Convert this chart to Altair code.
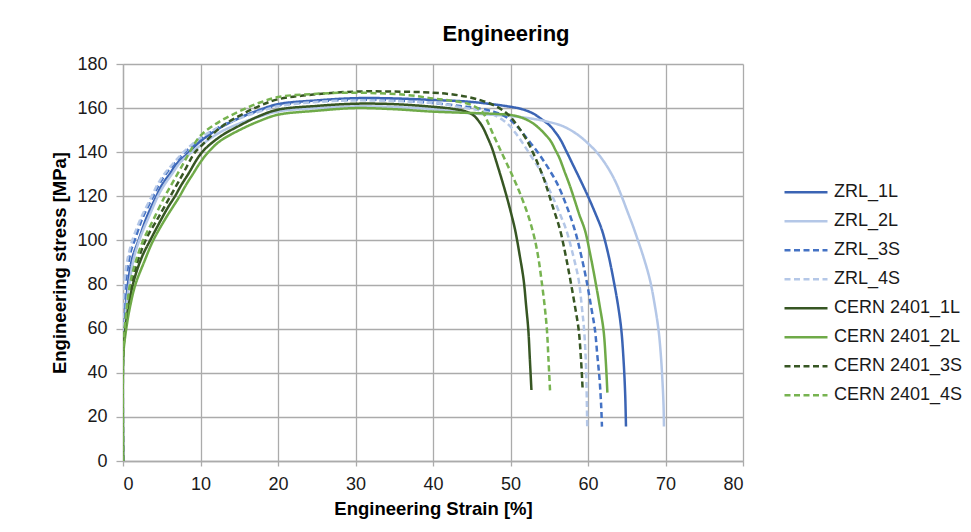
import altair as alt
import pandas as pd

series_names = ["ZRL_1L", "ZRL_2L", "ZRL_3S", "ZRL_4S",
                "CERN 2401_1L", "CERN 2401_2L", "CERN 2401_3S", "CERN 2401_4S"]
series_colors = ["#3B64B4", "#B4C7E7", "#4472C4", "#B4C7E7",
                 "#375623", "#6FAA48", "#375623", "#77B350"]
series_dash = [[1, 0], [1, 0], [6, 3.5], [6, 3.5],
               [1, 0], [1, 0], [6, 3.5], [6, 3.5]]

zrl_1l_strain = [0, 0, 0.1, 0.3, 0.7, 1.2, 2, 3, 4.3, 5, 6, 7, 8.2, 10, 12.5, 15, 17.5, 20, 25, 30, 35, 40, 45,
                 50, 51.5, 52.9, 54, 55.1, 55.8, 56.4, 57.2, 58.1, 59, 60, 61.1, 61.8, 62.6, 63.3, 63.9,
                 64.3, 64.6, 64.8, 64.9]
zrl_1l_stress = [0, 50, 58, 68, 82, 92, 100, 110, 120, 125, 130, 135, 139, 145, 151, 155.5, 159, 161.8, 163.5, 164.5, 164.4, 163.7, 162.8,
                 160.6, 159.5, 157.6, 155, 152, 149, 146, 140.5, 134, 127.5, 120, 111, 104.7, 94, 82, 70,
                 59.4, 45, 30, 15.6]

zrl_2l_strain = [0, 0, 0.1, 0.3, 0.8, 1.4, 2.3, 3.5, 4.5, 5.3, 6.3, 7.3, 8.5, 10, 12.5, 15, 17.5, 20, 25, 30, 35, 40, 44.3,
                 50, 52, 53.8, 55.2, 56.4, 57.3, 58.1, 59.1, 60, 61, 62, 62.9, 63.7, 64.4, 65.1, 65.7, 66.3,
                 67.2, 68, 68.6, 69.1, 69.4, 69.6, 69.75, 69.8]
zrl_2l_stress = [0, 50, 57, 66, 80, 92, 102, 112, 120, 125, 130, 135, 139, 143, 149, 153, 156, 158.5, 160, 160.8, 160.5, 159.5, 157.8,
                 156.4, 155.6, 154.6, 153.5, 152.3, 150.9, 149.3, 146.8, 144, 140.5, 136, 131, 125.5, 119.5, 113, 107.5, 101.5,
                 92, 82, 71, 59.4, 48, 36.7, 25, 15.6]

zrl_3s_strain = [0, 0, 0.2, 0.5, 1, 1.5, 2.5, 3.9, 4.6, 5.5, 6.7, 8, 10, 12.5, 15, 17.5, 20, 25, 30, 35, 40, 44.3, 46.2,
                 47.8, 49, 50, 51.1, 52.1, 53.2, 54.2, 55.1, 56, 57.2, 58.3, 59.1, 59.8, 60.4, 60.9, 61.2,
                 61.5, 61.7, 61.8]
zrl_3s_stress = [0, 55, 75, 85, 95, 100, 110, 120, 125, 130, 135, 140, 146, 151.5, 155.5, 158.8, 161.3, 163, 163.8, 163.5, 162.3, 160.6, 159.7,
                 158.4, 156.8, 154.6, 150.8, 146.3, 141.5, 136.5, 131.5, 126, 116, 104.7, 93.5, 82, 70, 59.4, 48,
                 36.7, 25, 15.6]

zrl_4s_strain = [0, 0, 0.2, 0.5, 1.2, 2.3, 3.7, 4.4, 5.3, 6.5, 7.8, 10, 12.5, 15, 17.5, 20, 25, 30, 35, 40, 44.3, 46.2,
                 47.8, 49, 50, 50.8, 51.6, 52.7, 53.8, 54.6, 55.6, 56.5, 57.2, 58.1, 58.8, 59.2, 59.5,
                 59.7, 59.8, 59.9]
zrl_4s_stress = [0, 70, 82, 90, 100, 110, 120, 125, 130, 135, 140, 146.5, 151.5, 155.3, 158.3, 160.8, 162.8, 163.5, 163.2, 162.3, 160, 158.8,
                 157, 154.6, 151.6, 148, 144, 138, 132, 126, 118.5, 111, 104.7, 93, 82, 70, 59.4,
                 47, 36, 15.6]

cern_1l_strain = [0, 0, 0.1, 0.3, 0.8, 1.5, 2.5, 3.5, 5, 5.8, 6.7, 7.5, 8.4, 10.2, 12.5, 15, 17.5, 20, 25, 30, 35, 40, 42.5,
                  44.3, 45.2, 45.8, 46.4, 47, 47.6, 48.1, 48.8, 49.5, 50.1, 50.6, 51.2, 51.7, 52, 52.3,
                  52.5, 52.7]
cern_1l_stress = [0, 47, 53, 60, 72, 83, 93, 100, 110, 115, 120, 125, 130, 140, 147, 152, 156.3, 159.3, 161, 162, 161.8, 160.6, 159.7,
                  158.4, 156.8, 154.6, 151.5, 147, 142, 136.5, 128.5, 120, 112, 104.7, 93, 82, 71, 59.4,
                  46, 32.2]

cern_2l_strain = [0, 0, 0.1, 0.3, 0.8, 1.6, 2.7, 3.9, 5.5, 6.4, 7.3, 8.1, 9, 10, 11, 12.5, 15, 17.5, 20, 25, 30, 35, 40, 46.5,
                  48.5, 50, 51.6, 52.9, 53.8, 54.5, 55.2, 55.8, 56.3, 57, 57.7, 58.3, 58.9, 59.6, 60.3,
                  60.9, 61.5, 62, 62.3, 62.5]
cern_2l_stress = [0, 45, 51, 57, 68, 80, 90, 100, 110, 115, 120, 125, 130, 135.5, 140, 145, 150, 154, 157, 158.8, 160, 159.5, 158.4, 157.6,
                  157.3, 156.9, 155.5, 153.1, 150.5, 148, 145, 141, 137.5, 131, 124.4, 118, 111.5, 104.7, 93.5,
                  82.5, 70.5, 59.4, 45, 31]

cern_3s_strain = [0, 0, 0.1, 0.3, 0.8, 1.5, 2.9, 4.5, 5.3, 6.1, 6.9, 7.7, 9.3, 10, 12.5, 15, 17.5, 20, 25, 30, 35, 40, 42.3,
                  44.3, 46.2, 47.8, 49, 50, 51, 52.1, 53.2, 54.3, 55.3, 56.4, 57.1, 57.7, 58.3, 58.8,
                  59.1, 59.3]
cern_3s_stress = [0, 47, 54, 62, 75, 86, 100, 110, 115, 120, 125, 130, 140, 142.5, 151, 156.5, 160.8, 164, 166.3, 167.5, 167.5, 167, 166.3,
                  165.2, 163.5, 161.4, 159, 156, 151.5, 145.5, 137.5, 128, 117, 104.7, 93.5, 82.5, 70.5, 59.4,
                  46, 33]

cern_4s_strain = [0, 0, 0.1, 0.3, 0.9, 1.6, 2.6, 4, 5.4, 6.2, 7, 7.8, 8.6, 10, 12.5, 15, 17.5, 20, 25, 30, 36.5, 40, 42.3,
                  44.3, 45.5, 46.5, 47.1, 47.7, 48.3, 48.9, 49.9, 50.8, 51.6, 52.4, 53.1, 53.6, 54, 54.4,
                  54.7, 54.9, 55.1]
cern_4s_stress = [0, 47, 54, 63, 80, 90, 100, 110, 120, 125, 130, 135, 140, 147.5, 154, 158.5, 162.3, 165, 166.5, 167, 166, 164.4, 163.4,
                  162.2, 160.5, 157.6, 153.5, 148.6, 144, 139.5, 132, 125, 118, 110, 101, 92, 82, 70.5,
                  59.4, 46, 32]

x_ticks = [0, 10, 20, 30, 40, 50, 60, 70, 80]
y_ticks = [0, 20, 40, 60, 80, 100, 120, 140, 160, 180]

all_strain = [zrl_1l_strain, zrl_2l_strain, zrl_3s_strain, zrl_4s_strain,
              cern_1l_strain, cern_2l_strain, cern_3s_strain, cern_4s_strain]
all_stress = [zrl_1l_stress, zrl_2l_stress, zrl_3s_stress, zrl_4s_stress,
              cern_1l_stress, cern_2l_stress, cern_3s_stress, cern_4s_stress]

rows = []
for k, (name, xs, ys) in enumerate(zip(series_names, all_strain, all_stress)):
    for i, (xv, yv) in enumerate(zip(xs, ys)):
        rows.append({"series": name, "strain": xv, "stress": yv, "idx": i, "sorder": k})
df = pd.DataFrame(rows)

FONT = "Liberation Sans"

chart = alt.Chart(df).mark_line(strokeWidth=2.5, clip=True, interpolate="catmull-rom").encode(
    x=alt.X("strain:Q",
            scale=alt.Scale(domain=[0, 80], nice=False, zero=False),
            axis=alt.Axis(values=x_ticks, title="Engineering Strain [%]", tickSize=5, labelPadding=9,
                          titlePadding=6)),
    y=alt.Y("stress:Q",
            scale=alt.Scale(domain=[0, 180], nice=False),
            axis=alt.Axis(values=y_ticks, title="Engineering stress [MPa]", tickSize=7, labelPadding=9,
                          titlePadding=7)),
    color=alt.Color("series:N",
                    scale=alt.Scale(domain=series_names, range=series_colors),
                    legend=alt.Legend(title=None, orient="none", legendX=660, legendY=114,
                                      symbolType="stroke", symbolSize=1849, symbolStrokeWidth=2.5,
                                      labelFontSize=18, labelFont=FONT, labelColor="#1a1a1a",
                                      clipHeight=28.6, rowPadding=0, labelOffset=5)),
    strokeDash=alt.StrokeDash("series:N",
                              scale=alt.Scale(domain=series_names, range=series_dash),
                              legend=None),
    detail="series:N",
    order=alt.Order("idx:Q"),
).properties(
    width=620,
    height=397,
    padding={"left": 115, "top": 56, "right": 220, "bottom": 60},
    autosize="none",
    title=alt.TitleParams("Engineering", anchor="middle", dx=73, offset=9,
                          fontSize=22, font=FONT, fontWeight="bold", color="#000000"),
).configure_axis(
    gridColor="#ABABAB",
    gridWidth=1.3,
    domainColor="#ABABAB",
    domainWidth=1.3,
    tickColor="#ABABAB",
    tickWidth=1.3,
    labelFont=FONT,
    labelFontSize=18,
    labelColor="#1a1a1a",
    titleFont=FONT,
    titleFontSize=18.5,
    titleFontWeight="bold",
    titleColor="#000000",
).configure_view(stroke=None)

chart.save("out.html", embed_options={"renderer": "svg", "actions": False})
